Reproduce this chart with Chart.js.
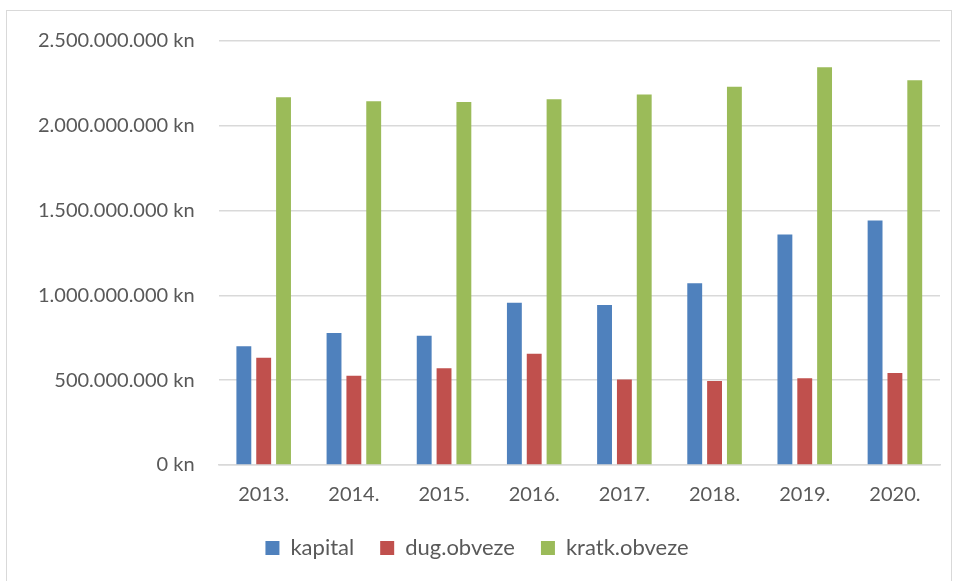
<!DOCTYPE html>
<html>
<head>
<meta charset="utf-8">
<script src="https://cdn.jsdelivr.net/npm/chart.js@4"></script>
<style>
  body { margin: 0; background: #fff; overflow: hidden; }
  #box { position: absolute; left: 6px; top: 10px; width: 946px; height: 580px; border: 1px solid #d9d9d9; box-sizing: border-box; }
  #barChart { position: absolute; left: 0; top: -6px; }
</style>
</head>
<body>
<div id="box"><canvas id="barChart" width="944" height="578"></canvas></div>
<script>
  const years = ['2013.', '2014.', '2015.', '2016.', '2017.', '2018.', '2019.', '2020.'];
  const kapital = [700000000, 778000000, 762000000, 957000000, 944000000, 1072000000, 1359000000, 1442000000];
  const dugObveze = [632000000, 526000000, 571000000, 656000000, 504000000, 496000000, 512000000, 542000000];
  const kratkObveze = [2169000000, 2145000000, 2140000000, 2157000000, 2185000000, 2230000000, 2345000000, 2268000000];

  // 2.500.000.000 kn
  function formatKn(v) {
    return v.toString().replace(/\B(?=(\d{3})+(?!\d))/g, '.') + ' kn';
  }

  const barChart = new Chart(document.getElementById('barChart').getContext('2d'), {
    type: 'bar',
    data: {
      labels: years,
      datasets: [{
        label: 'kapital',
        data: kapital,
        backgroundColor: '#4F81BD'
      }, {
        label: 'dug.obveze',
        data: dugObveze,
        backgroundColor: '#C0504D'
      }, {
        label: 'kratk.obveze',
        data: kratkObveze,
        backgroundColor: '#9BBB59'
      }]
    },
    options: {
      responsive: false,
      devicePixelRatio: 1,
      animation: false,
      categoryPercentage: 0.66,
      barPercentage: 0.75,
      layout: { padding: { left: 7, right: 11, top: 30, bottom: 14 } },
      plugins: {
        tooltip: { enabled: false },
        legend: {
          position: 'bottom',
          labels: {
            color: '#595959',
            font: { family: 'Lato', size: 22 },
            boxWidth: 14,
            boxHeight: 14,
            padding: 26
          }
        }
      },
      scales: {
        x: {
          grid: { display: false, drawTicks: false },
          border: { color: '#d9d9d9', width: 1.5 },
          ticks: { color: '#595959', font: { family: 'Lato', size: 20 }, padding: 18 },
          afterFit: (scale) => { scale.height -= 14; }
        },
        y: {
          min: 0,
          max: 2500000000,
          grid: { color: '#d9d9d9', lineWidth: 1.5, drawTicks: false },
          border: { display: false },
          ticks: {
            stepSize: 500000000,
            color: '#595959',
            font: { family: 'Lato', size: 20 },
            padding: 24,
            callback: formatKn
          }
        }
      }
    }
  });
</script>
</body>
</html>
